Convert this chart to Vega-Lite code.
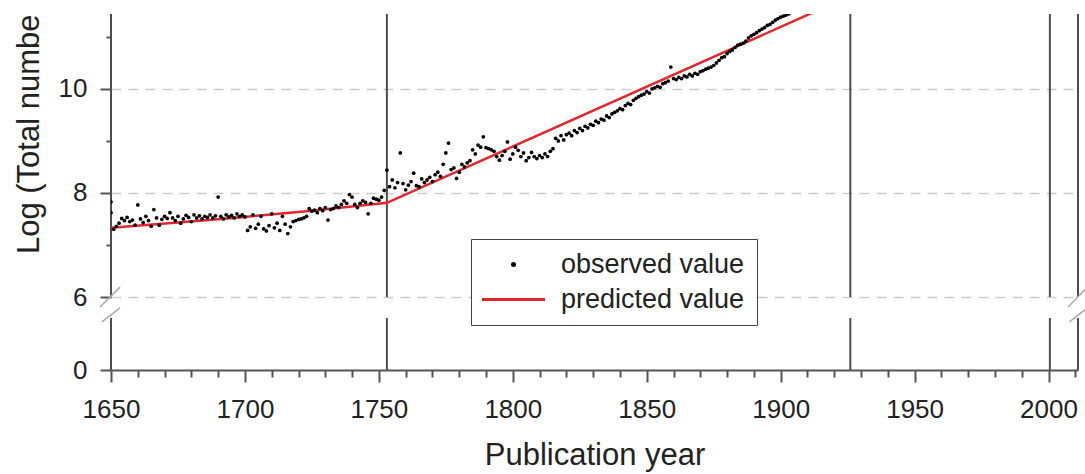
{
  "$schema": "https://vega.github.io/schema/vega-lite/v6.json",
  "width": 967,
  "height": 356,
  "autosize": {"type": "none"},
  "padding": {"left": 111, "top": 14, "right": 7, "bottom": 104},
  "background": "white",
  "config": {"view": {"stroke": null}, "font": "Liberation Sans"},
  "resolve": {"axis": {"x": "independent"}},
  "datasets": {
    "segments": [
      {"year": 1650, "value": 0, "value2": 4.27},
      {"year": 1650, "value": 6, "value2": 11.44},
      {"year": 1753, "value": 0, "value2": 4.27},
      {"year": 1753, "value": 6, "value2": 11.44},
      {"year": 1926, "value": 0, "value2": 4.27},
      {"year": 1926, "value": 6, "value2": 11.44},
      {"year": 2000.5, "value": 0, "value2": 4.27},
      {"year": 2000.5, "value": 6, "value2": 11.44},
      {"year": 2011, "value": 0, "value2": 4.27},
      {"year": 2011, "value": 6, "value2": 11.44}
    ],
    "breaks": [
      {"year": 1645.9, "year2": 1653.4, "value": 5.18, "value2": 6.19},
      {"year": 1646.6, "year2": 1653.4, "value": 3.95, "value2": 5.1},
      {"year": 2007.3, "year2": 2014.5, "value": 5.18, "value2": 6.19},
      {"year": 2007.8, "year2": 2014.5, "value": 3.95, "value2": 5.1}
    ],
    "predicted": [
      {"year": 1650, "value": 7.33},
      {"year": 1675, "value": 7.43},
      {"year": 1700, "value": 7.54},
      {"year": 1725, "value": 7.66},
      {"year": 1753, "value": 7.81},
      {"year": 1926, "value": 11.79}
    ],
    "observed": [
      {"year":1650,"value":7.83,"series":"observed value"},
      {"year":1650,"value":7.62,"series":"observed value"},
      {"year":1651,"value":7.3,"series":"observed value"},
      {"year":1652,"value":7.36,"series":"observed value"},
      {"year":1653,"value":7.42,"series":"observed value"},
      {"year":1654,"value":7.51,"series":"observed value"},
      {"year":1655,"value":7.47,"series":"observed value"},
      {"year":1656,"value":7.53,"series":"observed value"},
      {"year":1657,"value":7.45,"series":"observed value"},
      {"year":1658,"value":7.48,"series":"observed value"},
      {"year":1659,"value":7.38,"series":"observed value"},
      {"year":1660,"value":7.77,"series":"observed value"},
      {"year":1661,"value":7.5,"series":"observed value"},
      {"year":1662,"value":7.43,"series":"observed value"},
      {"year":1663,"value":7.55,"series":"observed value"},
      {"year":1664,"value":7.47,"series":"observed value"},
      {"year":1665,"value":7.36,"series":"observed value"},
      {"year":1666,"value":7.68,"series":"observed value"},
      {"year":1667,"value":7.52,"series":"observed value"},
      {"year":1668,"value":7.38,"series":"observed value"},
      {"year":1669,"value":7.49,"series":"observed value"},
      {"year":1670,"value":7.55,"series":"observed value"},
      {"year":1671,"value":7.51,"series":"observed value"},
      {"year":1672,"value":7.62,"series":"observed value"},
      {"year":1673,"value":7.52,"series":"observed value"},
      {"year":1674,"value":7.47,"series":"observed value"},
      {"year":1675,"value":7.55,"series":"observed value"},
      {"year":1676,"value":7.42,"series":"observed value"},
      {"year":1677,"value":7.5,"series":"observed value"},
      {"year":1678,"value":7.57,"series":"observed value"},
      {"year":1679,"value":7.53,"series":"observed value"},
      {"year":1680,"value":7.45,"series":"observed value"},
      {"year":1681,"value":7.58,"series":"observed value"},
      {"year":1682,"value":7.52,"series":"observed value"},
      {"year":1683,"value":7.56,"series":"observed value"},
      {"year":1684,"value":7.5,"series":"observed value"},
      {"year":1685,"value":7.55,"series":"observed value"},
      {"year":1686,"value":7.53,"series":"observed value"},
      {"year":1687,"value":7.58,"series":"observed value"},
      {"year":1688,"value":7.52,"series":"observed value"},
      {"year":1689,"value":7.56,"series":"observed value"},
      {"year":1690,"value":7.92,"series":"observed value"},
      {"year":1691,"value":7.55,"series":"observed value"},
      {"year":1692,"value":7.5,"series":"observed value"},
      {"year":1693,"value":7.58,"series":"observed value"},
      {"year":1694,"value":7.54,"series":"observed value"},
      {"year":1695,"value":7.57,"series":"observed value"},
      {"year":1696,"value":7.52,"series":"observed value"},
      {"year":1697,"value":7.6,"series":"observed value"},
      {"year":1698,"value":7.55,"series":"observed value"},
      {"year":1699,"value":7.58,"series":"observed value"},
      {"year":1700,"value":7.54,"series":"observed value"},
      {"year":1701,"value":7.28,"series":"observed value"},
      {"year":1702,"value":7.35,"series":"observed value"},
      {"year":1703,"value":7.58,"series":"observed value"},
      {"year":1704,"value":7.32,"series":"observed value"},
      {"year":1705,"value":7.4,"series":"observed value"},
      {"year":1706,"value":7.55,"series":"observed value"},
      {"year":1707,"value":7.31,"series":"observed value"},
      {"year":1708,"value":7.27,"series":"observed value"},
      {"year":1709,"value":7.37,"series":"observed value"},
      {"year":1710,"value":7.6,"series":"observed value"},
      {"year":1711,"value":7.33,"series":"observed value"},
      {"year":1712,"value":7.42,"series":"observed value"},
      {"year":1713,"value":7.28,"series":"observed value"},
      {"year":1714,"value":7.55,"series":"observed value"},
      {"year":1715,"value":7.4,"series":"observed value"},
      {"year":1716,"value":7.22,"series":"observed value"},
      {"year":1717,"value":7.35,"series":"observed value"},
      {"year":1718,"value":7.45,"series":"observed value"},
      {"year":1719,"value":7.47,"series":"observed value"},
      {"year":1720,"value":7.49,"series":"observed value"},
      {"year":1721,"value":7.5,"series":"observed value"},
      {"year":1722,"value":7.52,"series":"observed value"},
      {"year":1723,"value":7.55,"series":"observed value"},
      {"year":1724,"value":7.7,"series":"observed value"},
      {"year":1725,"value":7.65,"series":"observed value"},
      {"year":1726,"value":7.67,"series":"observed value"},
      {"year":1727,"value":7.62,"series":"observed value"},
      {"year":1728,"value":7.7,"series":"observed value"},
      {"year":1729,"value":7.66,"series":"observed value"},
      {"year":1730,"value":7.72,"series":"observed value"},
      {"year":1731,"value":7.48,"series":"observed value"},
      {"year":1732,"value":7.68,"series":"observed value"},
      {"year":1733,"value":7.7,"series":"observed value"},
      {"year":1734,"value":7.75,"series":"observed value"},
      {"year":1735,"value":7.72,"series":"observed value"},
      {"year":1736,"value":7.78,"series":"observed value"},
      {"year":1737,"value":7.85,"series":"observed value"},
      {"year":1738,"value":7.8,"series":"observed value"},
      {"year":1739,"value":7.97,"series":"observed value"},
      {"year":1740,"value":7.92,"series":"observed value"},
      {"year":1741,"value":7.78,"series":"observed value"},
      {"year":1742,"value":7.72,"series":"observed value"},
      {"year":1743,"value":7.8,"series":"observed value"},
      {"year":1744,"value":7.85,"series":"observed value"},
      {"year":1745,"value":7.82,"series":"observed value"},
      {"year":1746,"value":7.6,"series":"observed value"},
      {"year":1747,"value":7.8,"series":"observed value"},
      {"year":1748,"value":7.9,"series":"observed value"},
      {"year":1749,"value":7.88,"series":"observed value"},
      {"year":1750,"value":7.86,"series":"observed value"},
      {"year":1751,"value":7.92,"series":"observed value"},
      {"year":1752,"value":8.05,"series":"observed value"},
      {"year":1753,"value":8.44,"series":"observed value"},
      {"year":1754,"value":8.12,"series":"observed value"},
      {"year":1755,"value":8.25,"series":"observed value"},
      {"year":1756,"value":8.1,"series":"observed value"},
      {"year":1757,"value":8.2,"series":"observed value"},
      {"year":1758,"value":8.77,"series":"observed value"},
      {"year":1759,"value":8.18,"series":"observed value"},
      {"year":1760,"value":8.06,"series":"observed value"},
      {"year":1761,"value":8.15,"series":"observed value"},
      {"year":1762,"value":8.22,"series":"observed value"},
      {"year":1763,"value":8.38,"series":"observed value"},
      {"year":1764,"value":8.14,"series":"observed value"},
      {"year":1765,"value":8.12,"series":"observed value"},
      {"year":1766,"value":8.27,"series":"observed value"},
      {"year":1767,"value":8.2,"series":"observed value"},
      {"year":1768,"value":8.25,"series":"observed value"},
      {"year":1769,"value":8.3,"series":"observed value"},
      {"year":1770,"value":8.22,"series":"observed value"},
      {"year":1771,"value":8.35,"series":"observed value"},
      {"year":1772,"value":8.4,"series":"observed value"},
      {"year":1773,"value":8.32,"series":"observed value"},
      {"year":1774,"value":8.55,"series":"observed value"},
      {"year":1775,"value":8.77,"series":"observed value"},
      {"year":1776,"value":8.96,"series":"observed value"},
      {"year":1777,"value":8.45,"series":"observed value"},
      {"year":1778,"value":8.48,"series":"observed value"},
      {"year":1779,"value":8.28,"series":"observed value"},
      {"year":1780,"value":8.4,"series":"observed value"},
      {"year":1781,"value":8.55,"series":"observed value"},
      {"year":1782,"value":8.5,"series":"observed value"},
      {"year":1783,"value":8.58,"series":"observed value"},
      {"year":1784,"value":8.62,"series":"observed value"},
      {"year":1785,"value":8.83,"series":"observed value"},
      {"year":1786,"value":8.75,"series":"observed value"},
      {"year":1787,"value":8.92,"series":"observed value"},
      {"year":1788,"value":8.88,"series":"observed value"},
      {"year":1789,"value":9.08,"series":"observed value"},
      {"year":1790,"value":8.87,"series":"observed value"},
      {"year":1791,"value":8.85,"series":"observed value"},
      {"year":1792,"value":8.83,"series":"observed value"},
      {"year":1793,"value":8.8,"series":"observed value"},
      {"year":1794,"value":8.7,"series":"observed value"},
      {"year":1795,"value":8.63,"series":"observed value"},
      {"year":1796,"value":8.72,"series":"observed value"},
      {"year":1797,"value":8.8,"series":"observed value"},
      {"year":1798,"value":8.98,"series":"observed value"},
      {"year":1799,"value":8.65,"series":"observed value"},
      {"year":1800,"value":8.75,"series":"observed value"},
      {"year":1801,"value":8.88,"series":"observed value"},
      {"year":1802,"value":8.82,"series":"observed value"},
      {"year":1803,"value":8.7,"series":"observed value"},
      {"year":1804,"value":8.77,"series":"observed value"},
      {"year":1805,"value":8.62,"series":"observed value"},
      {"year":1806,"value":8.68,"series":"observed value"},
      {"year":1807,"value":8.78,"series":"observed value"},
      {"year":1808,"value":8.7,"series":"observed value"},
      {"year":1809,"value":8.66,"series":"observed value"},
      {"year":1810,"value":8.72,"series":"observed value"},
      {"year":1811,"value":8.68,"series":"observed value"},
      {"year":1812,"value":8.75,"series":"observed value"},
      {"year":1813,"value":8.7,"series":"observed value"},
      {"year":1814,"value":8.8,"series":"observed value"},
      {"year":1815,"value":8.85,"series":"observed value"},
      {"year":1816,"value":9.05,"series":"observed value"},
      {"year":1817,"value":9.0,"series":"observed value"},
      {"year":1818,"value":9.1,"series":"observed value"},
      {"year":1819,"value":9.02,"series":"observed value"},
      {"year":1820,"value":9.12,"series":"observed value"},
      {"year":1821,"value":9.15,"series":"observed value"},
      {"year":1822,"value":9.1,"series":"observed value"},
      {"year":1823,"value":9.2,"series":"observed value"},
      {"year":1824,"value":9.16,"series":"observed value"},
      {"year":1825,"value":9.24,"series":"observed value"},
      {"year":1826,"value":9.2,"series":"observed value"},
      {"year":1827,"value":9.28,"series":"observed value"},
      {"year":1828,"value":9.25,"series":"observed value"},
      {"year":1829,"value":9.32,"series":"observed value"},
      {"year":1830,"value":9.3,"series":"observed value"},
      {"year":1831,"value":9.38,"series":"observed value"},
      {"year":1832,"value":9.35,"series":"observed value"},
      {"year":1833,"value":9.42,"series":"observed value"},
      {"year":1834,"value":9.4,"series":"observed value"},
      {"year":1835,"value":9.48,"series":"observed value"},
      {"year":1836,"value":9.45,"series":"observed value"},
      {"year":1837,"value":9.52,"series":"observed value"},
      {"year":1838,"value":9.55,"series":"observed value"},
      {"year":1839,"value":9.58,"series":"observed value"},
      {"year":1840,"value":9.62,"series":"observed value"},
      {"year":1841,"value":9.6,"series":"observed value"},
      {"year":1842,"value":9.68,"series":"observed value"},
      {"year":1843,"value":9.72,"series":"observed value"},
      {"year":1844,"value":9.7,"series":"observed value"},
      {"year":1845,"value":9.78,"series":"observed value"},
      {"year":1846,"value":9.82,"series":"observed value"},
      {"year":1847,"value":9.85,"series":"observed value"},
      {"year":1848,"value":9.88,"series":"observed value"},
      {"year":1849,"value":9.9,"series":"observed value"},
      {"year":1850,"value":9.95,"series":"observed value"},
      {"year":1851,"value":9.92,"series":"observed value"},
      {"year":1852,"value":10.0,"series":"observed value"},
      {"year":1853,"value":10.02,"series":"observed value"},
      {"year":1854,"value":10.05,"series":"observed value"},
      {"year":1855,"value":10.03,"series":"observed value"},
      {"year":1856,"value":10.1,"series":"observed value"},
      {"year":1857,"value":10.12,"series":"observed value"},
      {"year":1858,"value":10.15,"series":"observed value"},
      {"year":1859,"value":10.42,"series":"observed value"},
      {"year":1860,"value":10.2,"series":"observed value"},
      {"year":1861,"value":10.18,"series":"observed value"},
      {"year":1862,"value":10.22,"series":"observed value"},
      {"year":1863,"value":10.2,"series":"observed value"},
      {"year":1864,"value":10.25,"series":"observed value"},
      {"year":1865,"value":10.23,"series":"observed value"},
      {"year":1866,"value":10.28,"series":"observed value"},
      {"year":1867,"value":10.25,"series":"observed value"},
      {"year":1868,"value":10.3,"series":"observed value"},
      {"year":1869,"value":10.28,"series":"observed value"},
      {"year":1870,"value":10.33,"series":"observed value"},
      {"year":1871,"value":10.35,"series":"observed value"},
      {"year":1872,"value":10.38,"series":"observed value"},
      {"year":1873,"value":10.4,"series":"observed value"},
      {"year":1874,"value":10.42,"series":"observed value"},
      {"year":1875,"value":10.45,"series":"observed value"},
      {"year":1876,"value":10.5,"series":"observed value"},
      {"year":1877,"value":10.55,"series":"observed value"},
      {"year":1878,"value":10.6,"series":"observed value"},
      {"year":1879,"value":10.62,"series":"observed value"},
      {"year":1880,"value":10.68,"series":"observed value"},
      {"year":1881,"value":10.72,"series":"observed value"},
      {"year":1882,"value":10.75,"series":"observed value"},
      {"year":1883,"value":10.8,"series":"observed value"},
      {"year":1884,"value":10.84,"series":"observed value"},
      {"year":1885,"value":10.86,"series":"observed value"},
      {"year":1886,"value":10.88,"series":"observed value"},
      {"year":1887,"value":10.92,"series":"observed value"},
      {"year":1888,"value":10.98,"series":"observed value"},
      {"year":1889,"value":11.02,"series":"observed value"},
      {"year":1890,"value":11.05,"series":"observed value"},
      {"year":1891,"value":11.08,"series":"observed value"},
      {"year":1892,"value":11.12,"series":"observed value"},
      {"year":1893,"value":11.15,"series":"observed value"},
      {"year":1894,"value":11.18,"series":"observed value"},
      {"year":1895,"value":11.22,"series":"observed value"},
      {"year":1896,"value":11.24,"series":"observed value"},
      {"year":1897,"value":11.28,"series":"observed value"},
      {"year":1898,"value":11.32,"series":"observed value"},
      {"year":1899,"value":11.35,"series":"observed value"},
      {"year":1900,"value":11.38,"series":"observed value"},
      {"year":1901,"value":11.4,"series":"observed value"},
      {"year":1902,"value":11.42,"series":"observed value"},
      {"year":1903,"value":11.44,"series":"observed value"}
    ]
  },
  "layer": [
    {
      "data": {"name": "segments"},
      "mark": {"type": "rule", "color": "#4d4d4d", "strokeWidth": 2},
      "encoding": {
        "x": {
          "field": "year", "type": "quantitative",
          "scale": {"domain": [1650, 2011], "nice": false, "zero": false},
          "axis": {
            "orient": "bottom",
            "title": "Publication year",
            "values": [1650, 1700, 1750, 1800, 1850, 1900, 1950, 2000],
            "format": "d",
            "tickSize": 12,
            "tickWidth": 2, "tickColor": "#555555",
            "domainColor": "#555555", "domainWidth": 2,
            "labelFontSize": 26, "labelColor": "#222222", "labelPadding": 14,
            "labelFlush": false, "labelOverlap": false,
            "titleFontSize": 31, "titleFontWeight": "normal", "titleColor": "#222222", "titlePadding": 18,
            "grid": false
          }
        },
        "y": {
          "field": "value", "type": "quantitative",
          "scale": {"domain": [0, 6, 11.44], "range": [356, 283, 0], "nice": false, "zero": false},
          "axis": {
            "title": "Log (Total numbe",
            "titleAnchor": "end",
            "values": [0, 6, 7, 8, 9, 10, 11],
            "labelExpr": "datum.value % 2 == 0 ? datum.label : ''",
            "tickSize": {"condition": {"test": "datum.value % 2 == 1", "value": 5}, "value": 11},
            "tickWidth": 2, "tickColor": "#555555",
            "domain": false,
            "labelFontSize": 26, "labelColor": "#222222", "labelPadding": 13,
            "labelFlush": false, "labelOverlap": false,
            "titleFontSize": 31, "titleFontWeight": "normal", "titleColor": "#222222", "titlePadding": 13,
            "grid": true, "gridColor": "#cccccc", "gridDash": [10, 7], "gridWidth": 1.5,
            "gridOpacity": {"condition": {"test": "datum.value % 2 == 1 || datum.value == 0", "value": 0}, "value": 1}
          }
        },
        "y2": {"field": "value2"}
      }
    },
    {
      "data": {"name": "breaks"},
      "mark": {"type": "rule", "color": "#aaaaaa", "strokeWidth": 1.5},
      "encoding": {
        "x": {
          "field": "year", "type": "quantitative",
          "axis": {
            "orient": "bottom",
            "title": null,
            "values": [1660,1670,1680,1690,1710,1720,1730,1740,1760,1770,1780,1790,1810,1820,1830,1840,1860,1870,1880,1890,1910,1920,1930,1940,1960,1970,1980,1990,2010],
            "labels": false,
            "domain": false,
            "grid": false,
            "tickSize": 7, "tickWidth": 2, "tickColor": "#555555"
          }
        },
        "x2": {"field": "year2"},
        "y": {"field": "value", "type": "quantitative"},
        "y2": {"field": "value2"}
      }
    },
    {
      "data": {"name": "predicted"},
      "mark": {"type": "line", "color": "#e3262b", "strokeWidth": 2.5, "clip": true},
      "encoding": {
        "x": {"field": "year", "type": "quantitative", "axis": null},
        "y": {"field": "value", "type": "quantitative"}
      }
    },
    {
      "data": {"name": "observed"},
      "mark": {"type": "point", "filled": true, "size": 14, "opacity": 1, "clip": true},
      "encoding": {
        "x": {"field": "year", "type": "quantitative", "axis": null},
        "y": {"field": "value", "type": "quantitative"},
        "color": {
          "field": "series", "type": "nominal",
          "scale": {"domain": ["observed value", "predicted value"], "range": ["#000000", "#e3262b"]},
          "legend": {
            "title": null, "orient": "none", "legendX": 360, "legendY": 225,
            "fillColor": "white", "strokeColor": "#444444", "padding": 12,
            "rowPadding": 7, "symbolOffset": 17, "labelOffset": 34,
            "symbolSize": 25, "symbolStrokeWidth": 0,
            "labelFontSize": 27, "labelColor": "#222222", "labelLimit": 400
          }
        },
        "shape": {
          "field": "series", "type": "nominal",
          "scale": {"domain": ["observed value", "predicted value"], "range": ["circle", "M-12.6,-0.6H12.6V0.6H-12.6Z"]}
        }
      }
    }
  ]
}
